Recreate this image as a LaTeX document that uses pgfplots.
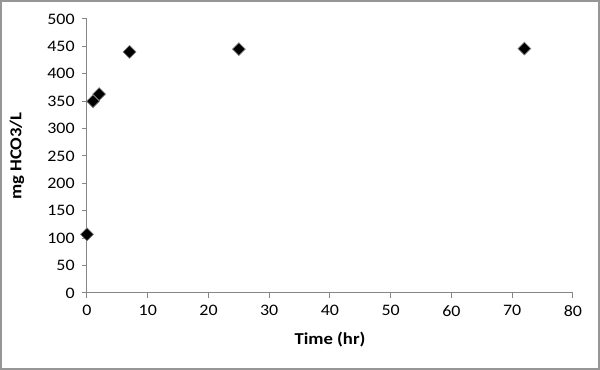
\documentclass[border=0pt]{standalone}
\usepackage{pgfplots}
\pgfplotsset{compat=1.18}
\usepackage{fontspec}
\setmainfont[FakeStretch=1.12]{Carlito}
\definecolor{axgray}{RGB}{134,134,134}
\definecolor{frgray}{RGB}{150,150,150}
\begin{document}
\begin{tikzpicture}
\useasboundingbox (0,0) rectangle (450pt,277.5pt);
\draw[frgray, line width=1.2pt] (0.6pt,0.6pt) rectangle (449.4pt,276.9pt);
\begin{axis}[
  at={(65.25pt,57.75pt)}, anchor=south west,
  scale only axis, width=364.5pt, height=205.5pt,
  xmin=0, xmax=80, ymin=0, ymax=500,
  xtick={0,10,...,80}, ytick={0,50,...,500},
  axis x line=bottom, axis y line=left,
  axis line style={axgray, line width=0.75pt, -},
  tick style={axgray, line width=0.75pt},
  tick align=outside, major tick length=3.75pt,
  tick label style={font=\fontsize{12}{14}\selectfont, black},
  /pgf/number format/assume math mode=true,
  xticklabel style={yshift=-2pt},
  yticklabel style={xshift=-2pt},
  xlabel={\fontsize{12.5}{15}\selectfont\bfseries Time (hr)},
  ylabel={\fontsize{12.5}{15}\selectfont\bfseries mg HCO3/L},
  every axis x label/.style={at={(axis description cs:0.5,0)}, yshift=-35.25pt, anchor=center},
  every axis y label/.style={at={(axis description cs:-0.144,0.5)}, rotate=90, anchor=center},
  clip=false,
]
\addplot[only marks, mark=square*, mark size=3.4pt,
  mark options={rotate=45, fill=black, draw=gray, line width=0.5pt}]
  coordinates {(0,107) (1,350) (2,363) (7,440) (25,445) (72,446)};
\end{axis}
\end{tikzpicture}
\end{document}
